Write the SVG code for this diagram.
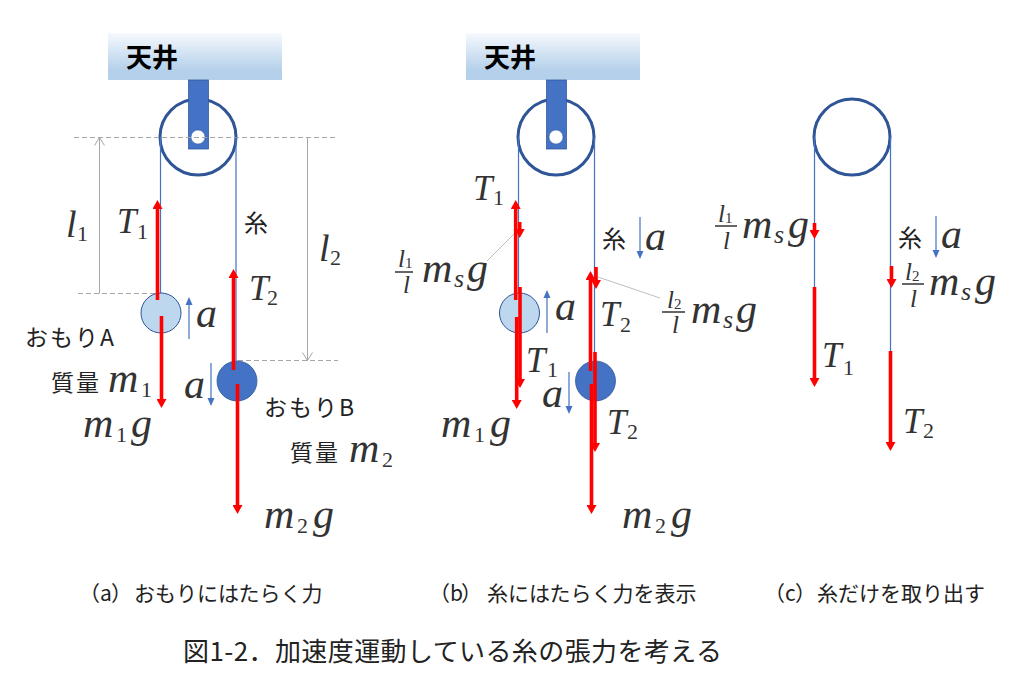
<svg xmlns="http://www.w3.org/2000/svg" width="1024" height="679" viewBox="0 0 1024 679">
<style>
text{font-family:"Noto Sans CJK JP","Liberation Sans",sans-serif;fill:#222}
.ceil{font-size:26px;font-weight:700;fill:#000}
.jp{font-size:23px;letter-spacing:2px}
.ito{font-size:24px}
.cap{font-size:21px}
.title{font-size:26px}
.m{font-family:"Liberation Serif",serif;font-style:italic;font-size:42px;fill:#333}
.T{font-size:35px}
.l{font-size:38px}
.fl{font-size:25px}
.sub{font-family:"Liberation Serif",serif;font-style:normal;font-size:22px}
.fs{font-size:15px}
.s{font-size:26px}
.pulley{fill:none;stroke:#2f5597;stroke-width:3}
.sus{fill:#4472c4;stroke:#2f5597;stroke-width:.75}
.hole{fill:#fff;stroke:#2f5597;stroke-width:.5}
.wa{fill:#bdd7ee;stroke:#2f5597;stroke-width:1}
.wb{fill:#4472c4;stroke:#2f5597;stroke-width:.75}
.str{stroke:#4472c4;stroke-width:1.200;fill:none}
.red{stroke:#f00;stroke-width:3.600;fill:none;marker-end:url(#hr)}
.acc{stroke:#4472c4;stroke-width:1.200;fill:none;marker-end:url(#hb)}
.dim{stroke:#a6a6a6;stroke-width:1;fill:none;marker-start:url(#hg);marker-end:url(#hg)}
.dash{stroke:#a6a6a6;stroke-width:1;stroke-dasharray:5 3;fill:none}
.lead{stroke:#bfbfbf;stroke-width:1;fill:none}
.bar{stroke:#333;stroke-width:1.500}
</style>
<defs>
<linearGradient id="cg" x1="0" y1="0" x2="0" y2="1"><stop offset="0" stop-color="#f6f9fd"/><stop offset=".8" stop-color="#b4d0ea"/><stop offset="1" stop-color="#b4d0ea"/></linearGradient>
<marker id="hr" markerUnits="userSpaceOnUse" markerWidth="11" markerHeight="10" refX="0" refY="5" orient="auto"><path d="M0 0L9 5L0 10z" fill="#f00"/></marker>
<marker id="hb" markerUnits="userSpaceOnUse" markerWidth="9" markerHeight="8" refX="0" refY="4" orient="auto"><path d="M0 0.500L8 4L0 7.500z" fill="#4472c4"/></marker>
<marker id="hg" markerUnits="userSpaceOnUse" markerWidth="10" markerHeight="12" refX="9" refY="6" orient="auto-start-reverse"><path d="M1 1L9 6L1 11" fill="none" stroke="#a6a6a6"/></marker>
</defs>

<g id="ceiling-a"><rect x="108" y="33" width="174" height="47" fill="url(#cg)"/><text class="ceil" x="126" y="67">天井</text></g>
<g id="ceiling-b"><rect x="466" y="33" width="174" height="47" fill="url(#cg)"/><text class="ceil" x="484" y="67">天井</text></g>

<g id="pulley-a"><circle class="pulley" cx="198" cy="137" r="38"/><rect class="sus" x="188.500" y="80" width="20" height="69"/><circle class="hole" cx="198" cy="137" r="7"/></g>
<g id="pulley-b"><circle class="pulley" cx="556" cy="137" r="38"/><rect class="sus" x="546.500" y="80" width="20" height="69"/><circle class="hole" cx="556" cy="137" r="7"/></g>
<g id="pulley-c"><circle class="pulley" cx="852" cy="137" r="38"/></g>

<g id="connectors">
<path class="dash" d="M74 137.500H338M78 293.500H160M238 360.500H338"/>
<path class="dim" d="M99.500 137.500V293.500M307.500 137.500V360.500"/>
<path class="str" d="M160.500 137V293M236 137V362M518.500 137V293M594.500 137V362M814.500 137V287M890.500 137V351"/>
<path class="lead" d="M487 261L520 228M598 277L660 298"/>
</g>

<g id="weight-a1"><circle class="wa" cx="161" cy="313" r="20"/></g>
<g id="weight-b1"><circle class="wb" cx="237" cy="381" r="20"/></g>
<g id="weight-a2"><circle class="wa" cx="519.500" cy="313" r="20"/></g>
<g id="weight-b2"><circle class="wb" cx="595.500" cy="381" r="20"/></g>

<g id="force-arrows">
<path class="red" d="M157.500 300V209"/><path class="red" d="M161.500 316V399"/>
<path class="red" d="M233.500 370V278"/><path class="red" d="M237.500 384V505"/>
<path class="red" d="M515.700 300V209"/><path class="red" d="M519.700 222V229"/>
<path class="red" d="M520 287V379"/><path class="red" d="M516.700 317V400"/>
<path class="red" d="M590.500 371V280"/><path class="red" d="M596 267V280"/>
<path class="red" d="M595 352V443"/><path class="red" d="M591.500 384V505"/>
<path class="red" d="M814.500 223V230"/><path class="red" d="M891.500 266V279"/>
<path class="red" d="M814.500 287V378"/><path class="red" d="M890.500 351V442"/>
</g>
<g id="accel-arrows">
<path class="acc" d="M189 339V305"/><path class="acc" d="M211 363V398"/>
<path class="acc" d="M547 333V298"/><path class="acc" d="M569 372V406"/>
<path class="acc" d="M640 217V251"/><path class="acc" d="M936 216V250"/>
</g>

<g id="labels-a">
<text class="m l"><tspan x="66" y="237">l</tspan><tspan class="sub" x="77" y="241">1</tspan></text>
<text class="m T"><tspan x="117" y="233">T</tspan><tspan class="sub" x="137" y="239">1</tspan></text>
<text class="m l"><tspan x="319" y="261">l</tspan><tspan class="sub" x="330" y="265">2</tspan></text>
<text class="ito" x="244" y="232">糸</text>
<text class="m T"><tspan x="249" y="300">T</tspan><tspan class="sub" x="267" y="305">2</tspan></text>
<text class="m" x="196" y="327">a</text>
<text class="m" x="184" y="398">a</text>
<text class="jp" x="25" y="346">おもりA</text>
<text class="jp" x="51" y="391">質量</text>
<text class="m"><tspan x="108" y="392">m</tspan><tspan class="sub" x="141" y="397">1</tspan></text>
<text class="m"><tspan x="83" y="437">m</tspan><tspan class="sub" x="116" y="442">1</tspan><tspan x="131" y="437">g</tspan></text>
<text class="jp" x="264" y="416">おもりB</text>
<text class="jp" x="290" y="461">質量</text>
<text class="m"><tspan x="349" y="462">m</tspan><tspan class="sub" x="382" y="467">2</tspan></text>
<text class="m"><tspan x="264" y="528">m</tspan><tspan class="sub" x="297" y="533">2</tspan><tspan x="313" y="528">g</tspan></text>
</g>

<g id="labels-b">
<text class="m T"><tspan x="473" y="200">T</tspan><tspan class="sub" x="493" y="205">1</tspan></text>
<g id="frac-b1"><text class="m fl"><tspan x="398" y="267">l</tspan><tspan class="sub fs" x="405" y="268">1</tspan><tspan x="403" y="293">l</tspan></text><path class="bar" d="M395 272H413"/></g>
<text class="m"><tspan x="422" y="282">m</tspan><tspan class="s" x="454" y="287">s</tspan><tspan x="467" y="282">g</tspan></text>
<g id="frac-b2"><text class="m fl"><tspan x="667" y="308">l</tspan><tspan class="sub fs" x="674" y="309">2</tspan><tspan x="672" y="333">l</tspan></text><path class="bar" d="M662 312H685"/></g>
<text class="m"><tspan x="691" y="323">m</tspan><tspan class="s" x="723" y="328">s</tspan><tspan x="736" y="323">g</tspan></text>
<text class="ito" x="602" y="248">糸</text>
<text class="m" x="645" y="250">a</text>
<text class="m" x="555" y="320">a</text>
<text class="m T"><tspan x="600" y="326">T</tspan><tspan class="sub" x="620" y="332">2</tspan></text>
<text class="m T"><tspan x="526" y="372">T</tspan><tspan class="sub" x="547" y="377">1</tspan></text>
<text class="m" x="542" y="407">a</text>
<text class="m T"><tspan x="607" y="434">T</tspan><tspan class="sub" x="627" y="439">2</tspan></text>
<text class="m"><tspan x="441" y="437">m</tspan><tspan class="sub" x="474" y="442">1</tspan><tspan x="490" y="437">g</tspan></text>
<text class="m"><tspan x="622" y="528">m</tspan><tspan class="sub" x="655" y="533">2</tspan><tspan x="671" y="528">g</tspan></text>
</g>

<g id="labels-c">
<g id="frac-c1"><text class="m fl"><tspan x="718" y="222">l</tspan><tspan class="sub fs" x="725" y="223">1</tspan><tspan x="723" y="249">l</tspan></text><path class="bar" d="M715 226H737"/></g>
<text class="m"><tspan x="742" y="238">m</tspan><tspan class="s" x="774" y="243">s</tspan><tspan x="788" y="238">g</tspan></text>
<g id="frac-c2"><text class="m fl"><tspan x="905" y="280">l</tspan><tspan class="sub fs" x="912" y="281">2</tspan><tspan x="910" y="307">l</tspan></text><path class="bar" d="M902 284H924"/></g>
<text class="m"><tspan x="929" y="295">m</tspan><tspan class="s" x="961" y="300">s</tspan><tspan x="975" y="295">g</tspan></text>
<text class="ito" x="898" y="247">糸</text>
<text class="m" x="941" y="248">a</text>
<text class="m T"><tspan x="822" y="367">T</tspan><tspan class="sub" x="843" y="375">1</tspan></text>
<text class="m T"><tspan x="903" y="433">T</tspan><tspan class="sub" x="923" y="438">2</tspan></text>
</g>

<g id="captions">
<text class="cap" y="601"><tspan x="79">（</tspan><tspan x="100">a</tspan><tspan x="111">）</tspan><tspan x="134">おもりにはたらく力</tspan></text>
<text class="cap" y="601"><tspan x="429">（</tspan><tspan x="450">b</tspan><tspan x="461">）</tspan><tspan x="487">糸にはたらく力を表示</tspan></text>
<text class="cap" y="601"><tspan x="764">（</tspan><tspan x="785">c</tspan><tspan x="795">）</tspan><tspan x="817">糸だけを取り出す</tspan></text>
<text class="title" x="183" y="661" textLength="539">図1-2．加速度運動している糸の張力を考える</text>
</g>
</svg>
